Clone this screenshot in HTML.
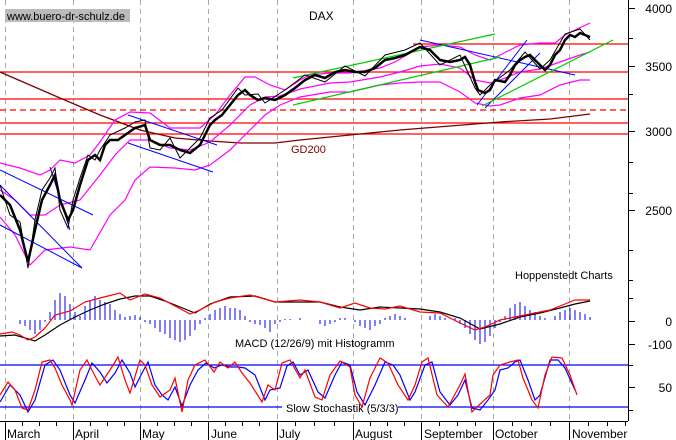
<!DOCTYPE html>
<html><head><meta charset="utf-8"><style>
html,body{margin:0;padding:0;background:#fff}
svg{display:block}
text{font-family:"Liberation Sans",sans-serif}
</style></head><body>
<svg width="676" height="440" viewBox="0 0 676 440" xmlns="http://www.w3.org/2000/svg">
<rect width="676" height="440" fill="#fff"/>
<g stroke="#aaa" stroke-width="1" stroke-dasharray="5,4">
<line x1="5.5" y1="0" x2="5.5" y2="421"/><line x1="73.5" y1="0" x2="73.5" y2="421"/>
<line x1="140.5" y1="0" x2="140.5" y2="421"/><line x1="208.5" y1="0" x2="208.5" y2="421"/>
<line x1="277.5" y1="0" x2="277.5" y2="421"/><line x1="353.5" y1="0" x2="353.5" y2="421"/>
<line x1="421.5" y1="0" x2="421.5" y2="421"/><line x1="493.5" y1="0" x2="493.5" y2="421"/>
<line x1="569.5" y1="0" x2="569.5" y2="421"/>
</g>
<g stroke="#000" stroke-width="1">
<line x1="628.5" y1="0" x2="628.5" y2="421"/>
<line x1="0" y1="421.5" x2="628" y2="421.5"/>
<line x1="628" y1="8.5" x2="635" y2="8.5"/><line x1="628" y1="38.5" x2="633" y2="38.5"/>
<line x1="628" y1="66.5" x2="635" y2="66.5"/><line x1="628" y1="94.5" x2="633" y2="94.5"/>
<line x1="628" y1="131.5" x2="635" y2="131.5"/><line x1="628" y1="162.5" x2="633" y2="162.5"/>
<line x1="628" y1="193.5" x2="633" y2="193.5"/><line x1="628" y1="210.5" x2="635" y2="210.5"/>
<line x1="628" y1="250.5" x2="633" y2="250.5"/><line x1="628" y1="280.5" x2="633" y2="280.5"/>
<line x1="628" y1="298.5" x2="633" y2="298.5"/><line x1="628" y1="321.5" x2="635" y2="321.5"/>
<line x1="628" y1="344.5" x2="635" y2="344.5"/><line x1="628" y1="365.5" x2="633" y2="365.5"/>
<line x1="628" y1="387.5" x2="635" y2="387.5"/><line x1="628" y1="410.5" x2="633" y2="410.5"/>
</g>
<g font-size="12" fill="#000" text-anchor="end">
<text x="672" y="13">4000</text><text x="672" y="71">3500</text>
<text x="672" y="136">3000</text><text x="672" y="215">2500</text>
<text x="672" y="326">0</text><text x="672" y="349">-100</text>
<text x="672" y="392">50</text>
</g>
<g stroke="#000">
<line x1="5.5" y1="421" x2="5.5" y2="440"/><line x1="73.5" y1="421" x2="73.5" y2="440"/>
<line x1="140.5" y1="421" x2="140.5" y2="440"/><line x1="208.5" y1="421" x2="208.5" y2="440"/>
<line x1="277.5" y1="421" x2="277.5" y2="440"/><line x1="353.5" y1="421" x2="353.5" y2="440"/>
<line x1="421.5" y1="421" x2="421.5" y2="440"/><line x1="493.5" y1="421" x2="493.5" y2="440"/>
<line x1="569.5" y1="421" x2="569.5" y2="440"/>
<g stroke-width="1">
<line x1="22.5" y1="421" x2="22.5" y2="426"/><line x1="39.5" y1="421" x2="39.5" y2="426"/><line x1="56.5" y1="421" x2="56.5" y2="426"/>
<line x1="90.5" y1="421" x2="90.5" y2="426"/><line x1="107.5" y1="421" x2="107.5" y2="426"/><line x1="124.5" y1="421" x2="124.5" y2="426"/>
<line x1="157.5" y1="421" x2="157.5" y2="426"/><line x1="174.5" y1="421" x2="174.5" y2="426"/><line x1="191.5" y1="421" x2="191.5" y2="426"/>
<line x1="225.5" y1="421" x2="225.5" y2="426"/><line x1="242.5" y1="421" x2="242.5" y2="426"/><line x1="259.5" y1="421" x2="259.5" y2="426"/>
<line x1="295.5" y1="421" x2="295.5" y2="426"/><line x1="314.5" y1="421" x2="314.5" y2="426"/><line x1="334.5" y1="421" x2="334.5" y2="426"/>
<line x1="370.5" y1="421" x2="370.5" y2="426"/><line x1="387.5" y1="421" x2="387.5" y2="426"/><line x1="404.5" y1="421" x2="404.5" y2="426"/>
<line x1="439.5" y1="421" x2="439.5" y2="426"/><line x1="457.5" y1="421" x2="457.5" y2="426"/><line x1="475.5" y1="421" x2="475.5" y2="426"/>
<line x1="512.5" y1="421" x2="512.5" y2="426"/><line x1="531.5" y1="421" x2="531.5" y2="426"/><line x1="550.5" y1="421" x2="550.5" y2="426"/>
<line x1="588.5" y1="421" x2="588.5" y2="426"/><line x1="607.5" y1="421" x2="607.5" y2="426"/><line x1="625.5" y1="421" x2="625.5" y2="426"/>
</g></g>
<g font-size="12" fill="#000">
<text x="7" y="438">March</text><text x="75" y="438">April</text><text x="142" y="438">May</text>
<text x="211" y="438">June</text><text x="279" y="438">July</text><text x="355" y="438">August</text>
<text x="424" y="438">September</text><text x="495" y="438">October</text><text x="572" y="438">November</text>
</g>
<g stroke="#f00" stroke-width="1.3">
<line x1="413" y1="44" x2="628" y2="44"/>
<line x1="0" y1="72" x2="628" y2="72"/>
<line x1="0" y1="99" x2="628" y2="99"/>
<line x1="0" y1="110" x2="628" y2="110" stroke-dasharray="6,4"/>
<line x1="0" y1="123" x2="628" y2="123"/>
<line x1="0" y1="134" x2="628" y2="134"/>
</g>
<polyline fill="none" stroke="#800000" stroke-width="1.3" points="0,72 30,85 60,98 100,115 140,130 175,138 210,141 240,143 275,143 300,140 350,135 400,130 450,126 500,122 550,119 590,114"/>
<text x="291" y="153" font-size="11" fill="#800000">GD200</text>
<g fill="none" stroke="#f0f" stroke-width="1.2">
<polyline points="0,163 20,168 40,175 50,170 60,160 75,163 90,155 100,142 115,120 130,112 150,113 170,128 185,128 200,128 215,115 230,95 245,77 255,77 270,85 285,90 300,80 310,75 330,73 350,73 380,68 395,62 420,47 440,45 460,47 475,55 490,60 500,55 520,45 540,43 555,43 565,35 575,30 590,23"/>
<polyline points="0,217 15,235 30,265 45,250 70,247 90,250 110,215 125,200 135,180 150,167 175,168 195,170 210,165 230,150 250,130 265,115 280,105 300,97 330,92 350,92 380,85 400,83 420,82 440,82 460,92 475,103 490,106 500,105 520,98 540,95 560,85 580,80 590,80"/>
<polyline points="0,190 15,200 30,215 45,215 60,205 80,200 100,175 115,155 130,140 150,140 170,148 190,150 210,142 230,125 250,105 265,97 280,96 300,89 330,83 350,82 380,77 400,72 420,66 440,64 460,68 475,80 490,83 500,80 520,72 540,69 560,62 580,55 590,52"/>
</g>
<g fill="none" stroke="#00f" stroke-width="1">
<line x1="0" y1="170" x2="93" y2="215"/><line x1="0" y1="185" x2="82" y2="268"/>
<line x1="0" y1="225" x2="82" y2="268"/><line x1="50" y1="167" x2="70" y2="230"/>
<line x1="128" y1="115" x2="217" y2="145"/><line x1="128" y1="143" x2="213" y2="172"/>
<line x1="420" y1="40" x2="575" y2="75"/><line x1="477" y1="105" x2="527" y2="40"/>
<line x1="485" y1="108" x2="540" y2="53"/>
</g>
<g fill="none" stroke="#0c0" stroke-width="1.2">
<line x1="293" y1="78" x2="495" y2="34"/><line x1="293" y1="105" x2="500" y2="57"/>
<line x1="482" y1="106" x2="613" y2="40"/>
</g>
<polyline fill="none" stroke="#000" stroke-width="2.5" points="0,195 10,205 20,230 28,262 35,230 42,200 50,185 55,175 60,200 68,220 73,210 80,185 88,160 95,155 100,160 105,145 110,140 118,140 125,135 135,128 145,125 150,140 160,145 170,145 180,150 190,153 200,145 205,135 210,125 215,120 222,115 230,105 238,95 245,90 250,95 258,100 265,98 275,100 285,95 295,88 305,80 315,75 325,78 335,72 345,70 355,72 365,72 375,68 385,60 395,58 405,55 420,47 430,50 440,60 450,62 460,60 465,57 470,65 475,82 478,90 485,93 490,90 495,80 505,82 510,75 515,65 520,60 525,57 530,55 535,60 540,65 545,70 550,65 555,55 560,50 565,40 570,35 575,37 580,33 585,35 590,37"/>
<polyline fill="none" stroke="#000" stroke-width="1" points="0,185 10,215 20,222 28,268 35,220 42,190 50,178 55,168 60,210 68,228 73,200 80,178 88,155 95,160 100,150 110,135 125,128 135,122 145,120 150,148 160,150 170,138 180,158 190,148 200,138 210,118 222,110 238,88 245,95 258,94 265,103 285,90 305,75 325,82 345,66 365,76 385,55 405,50 420,43 440,65 460,55 475,88 480,95 490,85 510,70 525,52 540,69 550,60 565,34 580,29 590,40"/>
<rect x="5" y="9" width="125" height="13" fill="#bbb"/>
<text x="7" y="20" font-size="11" fill="#000">www.buero-dr-schulz.de</text>
<text x="309" y="20" font-size="12" fill="#000">DAX</text>
<text x="515" y="279" font-size="11" fill="#000">Hoppenstedt Charts</text>
<g stroke="#00f" stroke-width="1">
<path d="M20 320v4M25 320v6M30 320v10M35 320v14M40 320v10M45 320v2M50 320v-8M55 320v-20M60 320v-27M65 320v-24M70 320v-16M75 320v-8M80 320v-4M85 320v-14M90 320v-20M95 320v-24M100 320v-20M105 320v-18M110 320v-16M115 320v-10M120 320v-6M125 320v-3M130 320v-4M135 320v-5M140 320v-3M145 320v2M150 320v4M155 320v8M160 320v12M165 320v14M170 320v18M175 320v20M180 320v22M185 320v20M190 320v16M195 320v10M200 320v4M205 320v-2M210 320v-6M215 320v-10M220 320v-12M225 320v-14M230 320v-12M235 320v-12M240 320v-10M245 320v-4M250 320v2M255 320v4M260 320v5M265 320v8M270 320v12M275 320v4M280 320v2M285 320v-1M290 320v-1M300 320v-2M320 320v4M325 320v6M330 320v4M335 320v2M340 320v-2M345 320v-2M355 320v2M360 320v6M365 320v8M370 320v10M375 320v6M380 320v4M385 320v-2M390 320v-4M395 320v-6M400 320v-4M405 320v-2M430 320v-4M435 320v-6M440 320v-4M445 320v-2M455 320v-2M460 320v4M465 320v8M470 320v14M475 320v20M480 320v24M485 320v22M490 320v16M495 320v8M500 320v2M505 320v-4M510 320v-12M515 320v-16M520 320v-18M525 320v-14M530 320v-10M535 320v-8M540 320v-4M545 320v-2M555 320v-4M560 320v-8M565 320v-10M570 320v-12M575 320v-10M580 320v-8M585 320v-6M590 320v-3"/>
</g>
<polyline fill="none" stroke="#000" stroke-width="1.2" points="0,336 15,335 25,338 35,341 45,335 60,325 75,317 90,310 105,304 120,299 135,296 150,296 165,301 180,307 195,313 210,304 230,297 255,296 275,302 300,302 320,302 340,307 360,310 380,307 400,308 420,309 440,312 460,318 480,329 500,324 520,317 540,313 560,308 575,304 590,301"/>
<polyline fill="none" stroke="#f00" stroke-width="1.2" points="0,334 12,332 20,335 28,340 35,337 45,328 55,315 70,311 85,302 100,298 120,293 130,300 145,294 160,298 175,306 190,314 200,310 215,302 230,298 250,295 265,299 275,302 300,300 320,302 340,308 355,303 370,308 385,309 400,306 420,312 440,313 460,323 475,330 485,327 500,320 520,316 540,312 550,310 565,304 575,300 590,300"/>
<text x="235" y="347" font-size="11" fill="#000">MACD (12/26/9) mit Histogramm</text>
<g stroke="#00f" stroke-width="1.2">
<line x1="0" y1="365" x2="628" y2="365"/>
<line x1="0" y1="407" x2="282" y2="407"/><line x1="398" y1="407" x2="628" y2="407"/>
</g>
<text x="286" y="412" font-size="11" fill="#000">Slow Stochastik (5/3/3)</text>
<polyline fill="none" stroke="#00f" stroke-width="1.2" points="0,402 10,385 20,395 28,412 35,400 45,365 53,360 60,370 70,395 75,403 85,380 92,363 100,372 107,383 115,373 122,360 130,373 135,387 142,373 148,362 155,385 162,395 168,400 175,387 182,406 190,385 198,370 206,363 214,368 222,365 230,367 238,367 245,368 255,375 265,400 270,390 280,388 287,366 293,362 300,375 308,370 318,392 325,398 335,375 342,362 350,365 357,392 365,405 375,385 385,362 393,365 400,375 410,400 415,392 425,365 432,362 440,392 450,405 458,395 465,380 472,408 480,410 488,400 495,390 500,370 508,368 515,362 520,360 528,380 535,400 540,395 550,360 558,360 565,368 575,390"/>
<polyline fill="none" stroke="#f00" stroke-width="1.2" points="0,395 8,382 15,390 22,408 28,410 35,390 42,362 50,360 55,368 62,385 70,400 72,405 80,370 87,360 95,376 100,385 110,370 118,357 125,380 130,393 140,360 145,365 152,385 160,397 170,390 175,378 182,412 188,380 195,365 205,360 214,372 220,362 228,368 235,362 242,373 250,383 262,402 268,385 275,390 282,363 290,360 300,378 305,370 315,397 322,400 330,375 340,361 350,367 355,395 362,407 370,378 380,358 388,363 398,385 408,400 415,385 422,362 428,358 437,395 448,407 460,385 465,374 472,412 478,406 490,395 493,375 500,365 510,362 518,360 523,378 532,400 538,408 545,375 552,357 562,358 570,375 577,395"/>
</svg>
</body></html>
